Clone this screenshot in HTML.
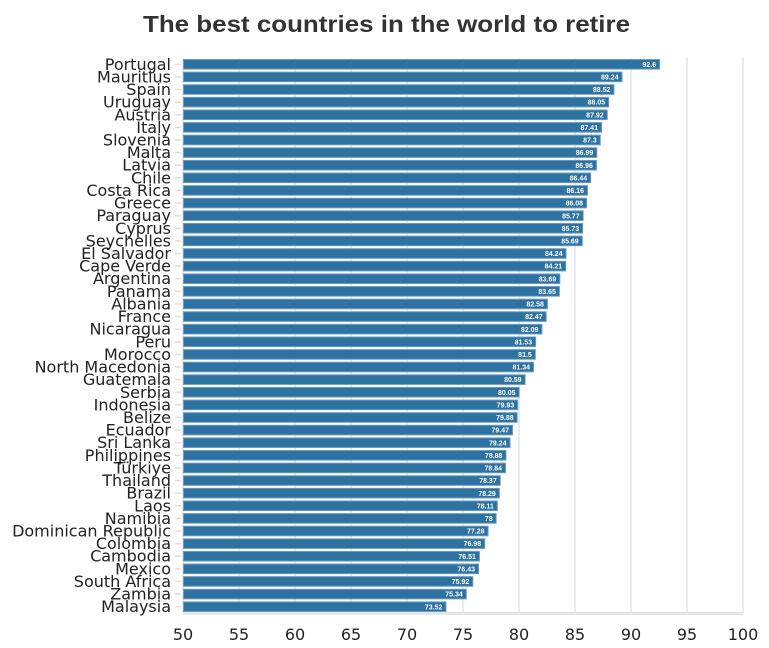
<!DOCTYPE html>
<html><head><meta charset="utf-8"><style>body{margin:0;background:#fff}svg{display:block}</style></head>
<body>
<svg id="c" width="769" height="648" xmlns="http://www.w3.org/2000/svg" font-family="'DejaVu Sans','Liberation Sans',sans-serif">
<text x="143" y="32" textLength="487" lengthAdjust="spacingAndGlyphs" font-size="23" font-weight="bold" fill="#333" font-family="'Liberation Sans',sans-serif">The best countries in the world to retire</text>
<g id="grid"></g><g id="bars"></g>
<line x1="183" y1="613.5" x2="743" y2="613.5" stroke="#e6e6e6" stroke-width="3"/>
</svg>
<script>
var d=[["Portugal",92.6],["Mauritius",89.24],["Spain",88.52],["Uruguay",88.05],["Austria",87.92],["Italy",87.41],["Slovenia",87.3],["Malta",86.99],["Latvia",86.96],["Chile",86.44],["Costa Rica",86.16],["Greece",86.08],["Paraguay",85.77],["Cyprus",85.73],["Seychelles",85.69],["El Salvador",84.24],["Cape Verde",84.21],["Argentina",83.69],["Panama",83.65],["Albania",82.58],["France",82.47],["Nicaragua",82.09],["Peru",81.53],["Morocco",81.5],["North Macedonia",81.34],["Guatemala",80.59],["Serbia",80.05],["Indonesia",79.93],["Belize",79.88],["Ecuador",79.47],["Sri Lanka",79.24],["Philippines",78.88],["Türkiye",78.84],["Thailand",78.37],["Brazil",78.29],["Laos",78.11],["Namibia",78],["Dominican Republic",77.28],["Colombia",76.98],["Cambodia",76.51],["Mexico",76.43],["South Africa",75.92],["Zambia",75.34],["Malaysia",73.52]];
var ns="http://www.w3.org/2000/svg",g=document.getElementById("grid"),b=document.getElementById("bars");
function el(p,t,a,tx){var e=document.createElementNS(ns,t);for(var k in a)e.setAttribute(k,a[k]);if(tx!=null)e.textContent=tx;p.appendChild(e);return e;}
function X(v){return 183+(v-50)*11.2;}
for(var v=50;v<=100;v+=5){var x=X(v);el(g,"line",{x1:x,y1:58,x2:x,y2:613,stroke:"#ebebeb","stroke-width":2});el(g,"text",{x:x,y:640,"text-anchor":"middle","font-size":16,fill:"#222"},v);}
var bw=(613-58)/44;
d.forEach(function(r,i){var cy=58+bw*(i+0.5);var w=X(r[1])-183;
el(g,"line",{x1:175,y1:cy,x2:181,y2:cy,stroke:"#ddd","stroke-width":1.5});
el(b,"text",{x:171,y:cy+5.5,"text-anchor":"end","font-size":16,fill:"#222"},r[0]);
el(b,"rect",{x:183.5,y:cy-4.8,width:w-1,height:9.6,fill:"#2d72a0",stroke:"#6c9cc0","stroke-width":1});
el(b,"text",{x:183+w-4,y:cy+2.6,"text-anchor":"end","font-size":7,"font-weight":"bold",fill:"#fff","font-family":"'Liberation Sans',sans-serif"},r[1]);});
</script>
</body></html>
